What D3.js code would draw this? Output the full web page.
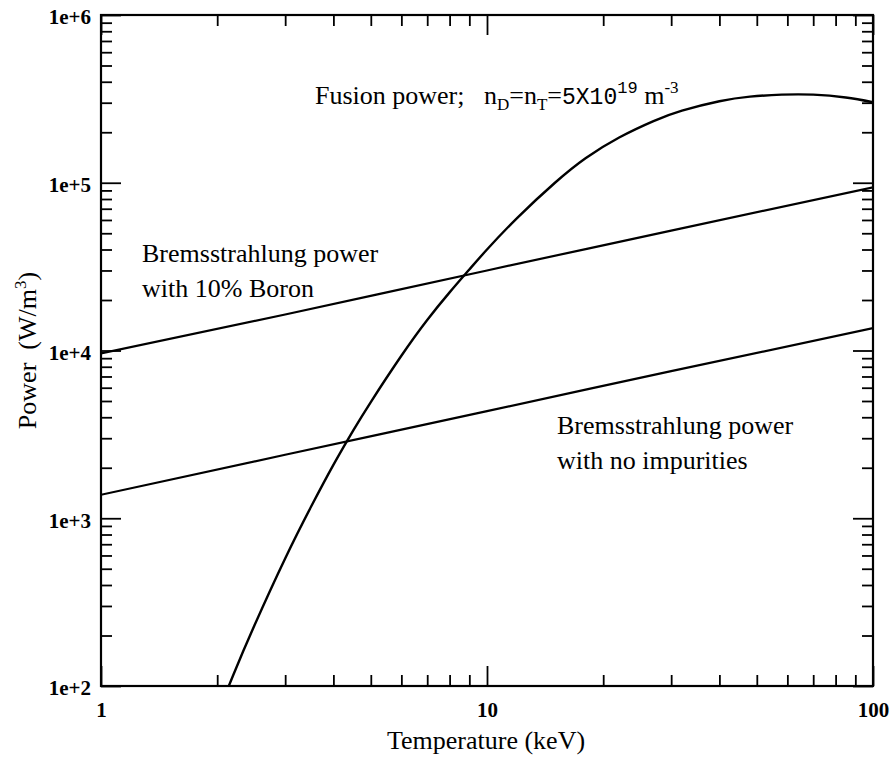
<!DOCTYPE html>
<html>
<head>
<meta charset="utf-8">
<script src="https://cdn.jsdelivr.net/npm/d3@7"></script>
<style>
  body { margin: 0; background: #fff; }
  svg text { font-family: "Liberation Serif", "Times New Roman", serif; fill: #000; }
  .tick-label { font-weight: bold; font-size: 21px; }
  .title { font-size: 26px; }
  .mono { font-family: "Liberation Mono", "Courier New", monospace; }
</style>
</head>
<body>
<svg id="chart" width="895" height="761" font-family="Liberation Serif"></svg>
<script>
// Temperature (keV) and power (W/m^3)
const tempFusion = [2, 2.2, 2.5, 3, 3.5, 4, 4.5, 5, 6, 7, 8, 9, 10, 12, 15, 18, 22, 27, 32, 40, 48, 58, 70, 85, 100];
const powerFusion = [67, 116, 231, 576, 1170, 2080, 3330, 4930, 9300, 15200, 22200, 30400, 40000, 62000, 100000,
  140000, 186000, 233000, 269000, 306000, 326000, 335000, 335000, 322000, 302000];

const tempBrems = [1, 3, 10, 30, 100];
const powerBoron = [9600, 16400, 30000, 51800, 94000];
const powerPure = [1380, 2390, 4350, 7530, 13600];

const xMajor = [1, 10, 100];
const yMajor = [1e2, 1e3, 1e4, 1e5, 1e6];

// Layout
const m = { l: 101, r: 873, t: 15, b: 686 };
const svg = d3.select("#chart");

const x = d3.scaleLog().domain([1, 100]).range([m.l, m.r]);
const y = d3.scaleLog().domain([1e2, 1e6]).range([m.b, m.t]);

// minor ticks 2..9 per decade
const xMinor = x.ticks().filter(d => !xMajor.includes(d));
const yMinor = y.ticks().filter(d => !yMajor.includes(d));

function styleAxis(g) {
  g.select(".domain").remove();
  g.selectAll(".tick line").attr("stroke", "#000").attr("stroke-width", 1.8);
}

// bottom / top
svg.append("g").attr("transform", `translate(0,${m.b})`)
  .call(d3.axisBottom(x).tickValues(xMinor).tickSize(-11).tickFormat(""))
  .call(styleAxis);
svg.append("g").attr("transform", `translate(0,${m.b})`)
  .call(d3.axisBottom(x).tickValues(xMajor).tickSize(-20).tickPadding(16).tickFormat(d3.format("d")))
  .call(styleAxis)
  .call(g => g.selectAll("text").attr("class", "tick-label").attr("fill", "#000")
    .attr("font-family", "Liberation Serif"));
svg.append("g").attr("transform", `translate(0,${m.t})`)
  .call(d3.axisTop(x).tickValues(xMinor).tickSize(-11).tickFormat(""))
  .call(styleAxis);
svg.append("g").attr("transform", `translate(0,${m.t})`)
  .call(d3.axisTop(x).tickValues(xMajor).tickSize(-20).tickFormat(""))
  .call(styleAxis);

// left / right
svg.append("g").attr("transform", `translate(${m.l},0)`)
  .call(d3.axisLeft(y).tickValues(yMinor).tickSize(-11).tickFormat(""))
  .call(styleAxis);
svg.append("g").attr("transform", `translate(${m.l},0)`)
  .call(d3.axisLeft(y).tickValues(yMajor).tickSize(-20).tickPadding(10).tickFormat(d => "1e+" + Math.round(Math.log10(d))))
  .call(styleAxis)
  .call(g => g.selectAll("text").attr("class", "tick-label").attr("fill", "#000").attr("dy", "0.42em")
    .attr("font-family", "Liberation Serif"));
svg.append("g").attr("transform", `translate(${m.r},0)`)
  .call(d3.axisRight(y).tickValues(yMinor).tickSize(-11).tickFormat(""))
  .call(styleAxis);
svg.append("g").attr("transform", `translate(${m.r},0)`)
  .call(d3.axisRight(y).tickValues(yMajor).tickSize(-20).tickFormat(""))
  .call(styleAxis);

// frame
svg.append("rect")
  .attr("x", m.l).attr("y", m.t)
  .attr("width", m.r - m.l).attr("height", m.b - m.t)
  .attr("fill", "none").attr("stroke", "#000").attr("stroke-width", 2.2);

// curves
svg.append("clipPath").attr("id", "plot-clip")
  .append("rect").attr("x", m.l).attr("y", m.t).attr("width", m.r - m.l).attr("height", m.b - m.t);

const line = d3.line().x(d => x(d[0])).y(d => y(d[1])).curve(d3.curveNatural);
const plot = svg.append("g").attr("clip-path", "url(#plot-clip)");

[
  [tempFusion, powerFusion, 2.4],
  [tempBrems, powerBoron, 2.2],
  [tempBrems, powerPure, 2.2]
].forEach(([ts, ps, w]) => {
  plot.append("path")
    .datum(ts.map((t, i) => [t, ps[i]]))
    .attr("d", line)
    .attr("fill", "none")
    .attr("stroke", "#000")
    .attr("stroke-width", w);
});

// axis titles
svg.append("text").attr("class", "title")
  .attr("x", 486).attr("y", 749)
  .attr("text-anchor", "middle")
  .text("Temperature (keV)");

const yt = svg.append("text").attr("class", "title")
  .attr("text-anchor", "middle")
  .attr("transform", `translate(36,${(m.t + m.b) / 2}) rotate(-90)`);
yt.append("tspan").text("Power\u00a0 (W/m");
yt.append("tspan").attr("dy", -10).attr("font-size", 17).text("3");
yt.append("tspan").attr("dy", 10).text(")");

// annotations
function block(x0, y0, lines) {
  const t = svg.append("text").attr("class", "title").attr("x", x0).attr("y", y0);
  lines.forEach((s, i) => t.append("tspan").attr("x", x0).attr("dy", i ? 35 : 0).text(s));
}
block(142, 262, ["Bremsstrahlung power", "with 10% Boron"]);
block(557, 434, ["Bremsstrahlung power", "with no impurities"]);

const ft = svg.append("text").attr("class", "title").attr("x", 315).attr("y", 104);
ft.append("tspan").text("Fusion power;\u00a0\u00a0 n");
ft.append("tspan").attr("dy", 6).attr("font-size", 17).text("D");
ft.append("tspan").attr("dy", -6).text("=n");
ft.append("tspan").attr("dy", 6).attr("font-size", 17).text("T");
ft.append("tspan").attr("dy", -6).text("=");
ft.append("tspan").attr("class", "mono").attr("font-size", 23).text("5X10");
ft.append("tspan").attr("class", "mono").attr("dy", -11).attr("font-size", 17).text("19");
ft.append("tspan").attr("dy", 11).text(" m");
ft.append("tspan").attr("dy", -11).attr("font-size", 17).text("-3");
</script>
</body>
</html>
